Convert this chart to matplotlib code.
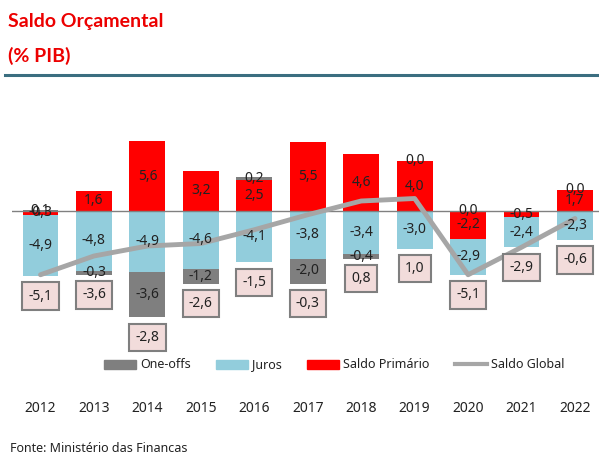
import numpy as np
import matplotlib
matplotlib.use("Agg")
import matplotlib.pyplot as plt
from matplotlib.patches import Patch
from matplotlib.lines import Line2D
from matplotlib.transforms import blended_transform_factory

# dados (% PIB)
anos = ["2012", "2013", "2014", "2015", "2016", "2017", "2018", "2019", "2020", "2021", "2022"]
saldo_primario = [-0.3, 1.6, 5.6, 3.2, 2.5, 5.5, 4.6, 4.0, -2.2, -0.5, 1.7]
juros = [-4.9, -4.8, -4.9, -4.6, -4.1, -3.8, -3.4, -3.0, -2.9, -2.4, -2.3]
one_offs = [0.1, -0.3, -3.6, -1.2, 0.2, -2.0, -0.4, 0.0, 0.0, np.nan, 0.0]
saldo_global = [-5.1, -3.6, -2.8, -2.6, -1.5, -0.3, 0.8, 1.0, -5.1, -2.9, -0.6]

c_red = "#ff0000"
c_blue = "#92cddc"
c_gray = "#7f7f7f"
c_line = "#a6a6a6"

plt.rcParams["font.family"] = ["Noto Sans", "DejaVu Sans"]

fig = plt.figure(figsize=(5.99, 4.55), dpi=100)
ax = fig.add_axes([12 / 599, 115 / 455, 587 / 599, 240 / 455])

x = np.arange(len(anos))
w = 0.67

pos_base = np.zeros(len(x))
neg_base = np.zeros(len(x))

def stack(vals, color):
    vals = np.array(vals, dtype=float)
    for i, v in enumerate(vals):
        if np.isnan(v):
            continue
        if v >= 0:
            b = pos_base[i]
            pos_base[i] += v
        else:
            b = neg_base[i]
            neg_base[i] += v
        ax.bar(x[i], v, w, bottom=b, color=color, edgecolor="none", zorder=2)
        ax.text(x[i], b + v / 2, f"{v:.1f}".replace(".", ","), ha="center", va="center",
                fontsize=10, color="#222222", zorder=5)

stack(saldo_primario, c_red)
stack(juros, c_blue)
stack(one_offs, c_gray)

ax.axhline(0, color="#808080", lw=1, zorder=3)

ax.plot(x, saldo_global, color=c_line, lw=3.5, zorder=4, solid_capstyle="round")

# caixas com o saldo global
for i, v in enumerate(saldo_global):
    ax.text(x[i], neg_base[i] - 1.6, f"{v:.1f}".replace(".", ","), ha="center", va="center",
            fontsize=10, color="#222222", zorder=6,
            bbox=dict(boxstyle="square,pad=0.45", fc="#f2dcdb", ec="#7f7f7f", lw=1.5))

ax.set_xlim(-0.533, 10.449)
ax.set_ylim(-10.32, 8.88)
ax.axis("off")

tr = blended_transform_factory(ax.transData, fig.transFigure)
for i, a in enumerate(anos):
    ax.text(x[i], 1 - 408 / 455, a, transform=tr, ha="center", va="center",
            fontsize=10, color="#222222")

handles = [Patch(color=c_gray), Patch(color=c_blue), Patch(color=c_red),
           Line2D([], [], color=c_line, lw=3)]
fig.legend(handles, ["One-offs", "Juros", "Saldo Primário", "Saldo Global"],
           loc="center", bbox_to_anchor=(334 / 599, 1 - 365 / 455), ncol=4,
           frameon=False, fontsize=9, handlelength=2.6, handletextpad=0.3,
           columnspacing=2.0, labelcolor="#222222")

fig.text(8 / 599, 1 - 22 / 455, "Saldo Orçamental", fontsize=14, fontweight="bold",
         color="#ec0000", va="center", family="Lato")
fig.text(8 / 599, 1 - 56 / 455, "(% PIB)", fontsize=14, fontweight="bold",
         color="#ec0000", va="center", family="Lato")
fig.add_artist(Line2D([5 / 599, 1], [1 - 74.5 / 455] * 2, color="#3b6e80", lw=2.2))

fig.text(10 / 599, 1 - 448 / 455, "Fonte: Ministério das Financas", fontsize=9,
         color="#222222", va="center")

fig.savefig("out.png", dpi=100)
